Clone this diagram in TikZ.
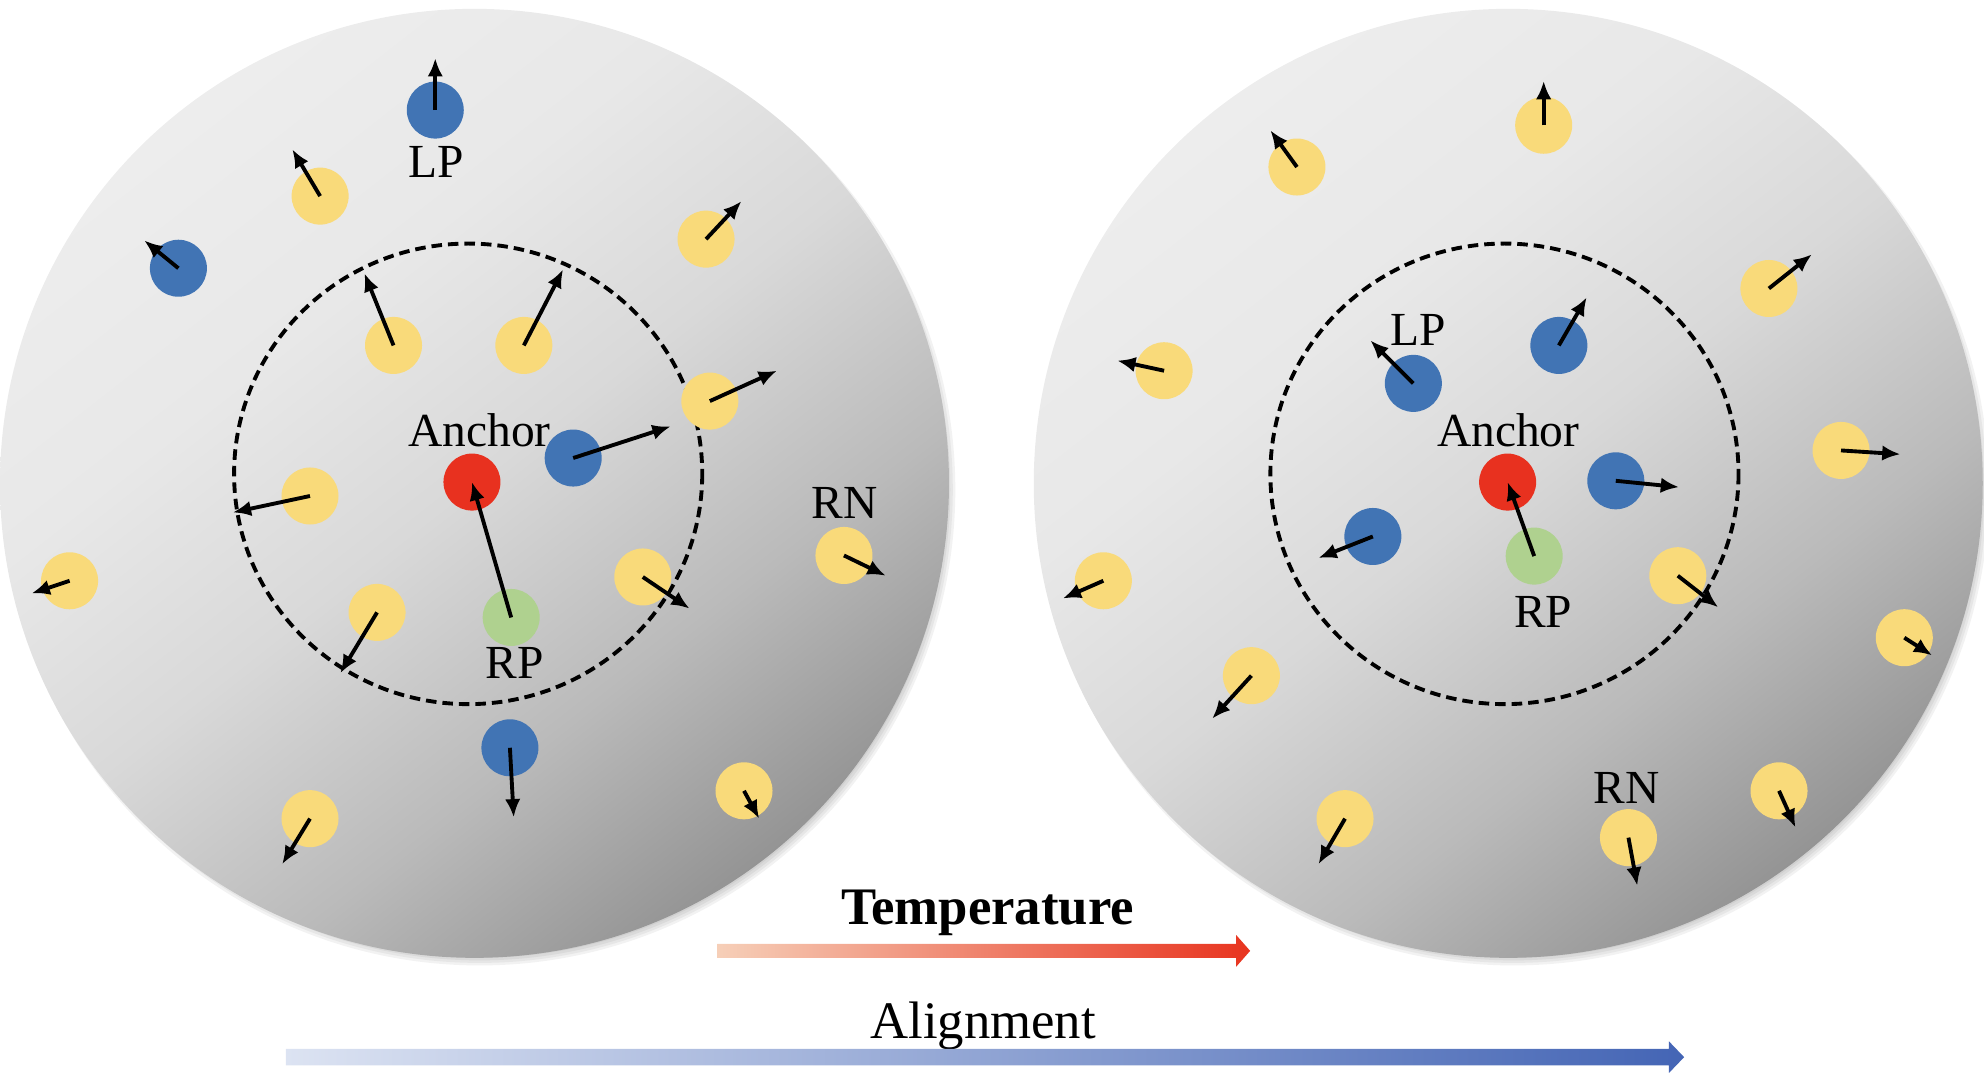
\documentclass[tikz,border=0pt]{standalone}
\usepackage{fontspec}
\setmainfont{Liberation Serif}
\usetikzlibrary{arrows.meta}

\definecolor{ptblue}{HTML}{4174B4}
\definecolor{ptyel}{HTML}{F9DA7A}
\definecolor{ptred}{HTML}{E8311F}
\definecolor{ptgrn}{HTML}{AFD18F}
\definecolor{tempA}{HTML}{F6CFB8}
\definecolor{tempB}{HTML}{E8341F}
\definecolor{alignA}{HTML}{DCE3F2}
\definecolor{alignB}{HTML}{4465B5}

\pgfdeclareverticalshading{discshade}{100bp}{color(0bp)=(black!42); color(25bp)=(black!42);
  color(37bp)=(black!27); color(50bp)=(black!15); color(62bp)=(black!9); color(75bp)=(black!7); color(100bp)=(black!7)}

\tikzset{
  dot/.style={circle, minimum size=5.7mm, inner sep=0pt},
  vec/.style={line width=1.1pt, -{Latex[length=5.2pt,width=4.4pt]}},
  tag/.style={font=\fontsize{13.5}{15}\selectfont, anchor=base, inner sep=0pt},
  bigtag/.style={font=\fontsize{15}{17}\selectfont, anchor=base, inner sep=0pt},
  ring/.style={line width=1.1pt, dash pattern=on 3pt off 1.7pt},
}

\begin{document}
\begin{tikzpicture}[x=0.1265mm, y=-0.1265mm]
    \useasboundingbox (0,0) rectangle (1568,848);
    \foreach \cx in {375,1192} {
        \foreach \k in {1,...,5}
            \fill[black, opacity=0.05] (\cx+4,387) circle [radius=366+2*\k];
        \shade[shading=discshade, shading angle=38] (\cx,382) circle [radius=375];
    }
    \draw[ring] (370,374.5) ellipse [x radius=185, y radius=182];
    \draw[ring] (1189,374.5) ellipse [x radius=185, y radius=182];

    \foreach \n/\c/\x/\y/\u/\v in {
        lu1/ptblue/344/87/344/46, lu2/ptyel/253/155/231/118,
        lu3/ptblue/141/212/114/190, lu4/ptyel/558/189/586/159,
        lu5/ptyel/311/273/288/216, lu6/ptyel/414/273/445/213,
        lu7/ptyel/561/317/614/293, lu8/ptblue/453/362/530/337,
        lu9/ptyel/245/392/184/405, lu10/ptyel/55/459/25/469,
        lu11/ptyel/298/484/269/532, lu12/ptyel/508/456/545/481,
        lu13/ptyel/667/439/700/455, lu14/ptblue/403/591/406/646,
        lu15/ptyel/245/647/223/683, lu16/ptyel/588/625/600/647,
        ru1/ptyel/1220/99/1220/64, ru2/ptyel/1025/132/1004/103,
        ru3/ptyel/1398/228/1432/201, ru4/ptyel/920/293/883/285,
        ru5/ptblue/1117/303/1083/269, ru6/ptblue/1232/273/1254/235,
        ru7/ptblue/1277/380/1327/385, ru8/ptyel/1455/356/1502/359,
        ru9/ptblue/1085/424/1042/441, ru10/ptyel/1326/455/1358/480,
        ru11/ptyel/872/459/840/473, ru12/ptyel/1505/504/1527/518,
        ru13/ptyel/989/534/958/568, ru14/ptyel/1063/647/1042/683,
        ru15/ptyel/1287/662/1294/700, ru16/ptyel/1406/625/1419/654} {
        \node[dot, fill=\c] (\n) at (\x,\y) {};
        \coordinate (\n tip) at (\u,\v);
        \draw[vec] (\n.center) -- (\n tip);
    }

    \node[dot, fill=ptred] (lanc) at (373,381) {};
    \node[dot, fill=ptgrn] (lrp) at (404,488) {};
    \draw[vec] (lrp.center) -- (lanc.center);
    \node[dot, fill=ptred] (ranc) at (1191.5,381) {};
    \node[dot, fill=ptgrn] (rrp) at (1212.5,439.5) {};
    \draw[vec] (rrp.center) -- (ranc.center);

    \node[tag] (llp) at (345,140.4) {LP};
    \node[tag] (lanctag) at (379,353) {Anchor};
    \node[tag] (lrn) at (667.7,410) {RN};
    \node[tag] (lrptag) at (406.7,536.6) {RP};
    \node[tag] (rlp) at (1121,272.7) {LP};
    \node[tag] (ranctag) at (1192,353) {Anchor};
    \node[tag] (rrptag) at (1219.5,496) {RP};
    \node[tag] (rrn) at (1285.6,635) {RN};

    \node[bigtag, font=\fontsize{15}{17}\selectfont\bfseries] (temp) at (780.5,731) {Temperature};
    \shade[left color=tempA, right color=tempB]
        (567,746) -- (977,746) -- (977,739) -- (988,751.5) -- (977,764) -- (977,757) -- (567,757) -- cycle;
    \node[bigtag] (align) at (777,821) {Alignment};
    \shade[left color=alignA, right color=alignB]
        (226,829) -- (1319,829) -- (1319,823) -- (1331,835.5) -- (1319,848) -- (1319,842) -- (226,842) -- cycle;
\end{tikzpicture}
\end{document}
